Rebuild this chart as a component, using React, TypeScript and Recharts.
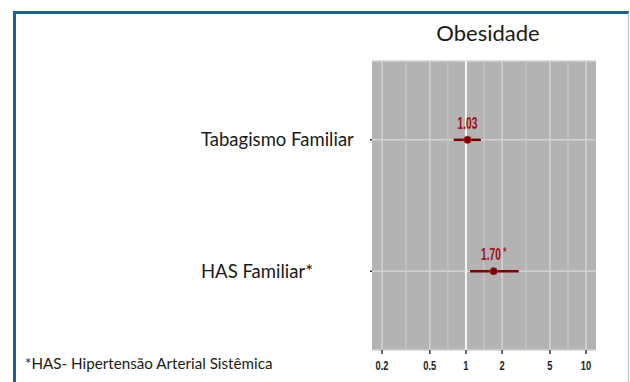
import React from "react";
import {
  ScatterChart,
  Scatter,
  XAxis,
  YAxis,
  ZAxis,
  CartesianGrid,
  ReferenceLine,
  ErrorBar,
  LabelList,
} from "recharts";

const categories = ["Tabagismo Familiar", "HAS Familiar*"];
const oddsRatios = [1.03, 1.7];
const ciLow = [0.79, 1.08];
const ciHigh = [1.33, 2.75];
const valueLabels = ["1.03", "1.70 *"];
const majorTicks = [0.2, 0.5, 1, 2, 5, 10];
const majorTickLabels = ["0.2", "0.5", "1", "2", "5", "10"];
const minorBreaks = [0.316, 0.707, 1.414, 3.162, 7.071];

const data = categories.map((name, i) => ({
  name,
  pos: i + 1,
  or: oddsRatios[i],
  err: [oddsRatios[i] - ciLow[i], ciHigh[i] - oddsRatios[i]],
  label: valueLabels[i],
}));

const narrow = "'Liberation Sans', Arimo, sans-serif";
const sans = "Lato, 'Open Sans', 'Noto Sans', sans-serif";
const Y_LABEL_LEFT = 201;

const Dot = (props: any) => {
  const { cx, cy } = props;
  return <circle cx={cx} cy={cy} r={3.8} fill="#7a0000" stroke="#c05050" strokeWidth={0.6} />;
};

const XTick = (props: any) => {
  const { x, y, payload } = props;
  const idx = majorTicks.indexOf(payload.value);
  const text = idx >= 0 ? majorTickLabels[idx] : String(payload.value);
  return (
    <g transform={`translate(${x},${y})`}>
      <text
        transform="scale(0.78,1)"
        textAnchor="middle"
        dy="0.71em"
        fill="#1e1e1e"
        fontSize={12}
        fontFamily={narrow}
        fontWeight="bold"
      >
        {text}
      </text>
    </g>
  );
};

const YTick = (props: any) => {
  const { y, payload } = props;
  const text = categories[payload.value - 1] ?? "";
  return (
    <text x={Y_LABEL_LEFT} y={y} dy="0.35em" textAnchor="start" fill="#1a1a1a" fontSize={18.5} fontFamily={sans}>
      {text}
    </text>
  );
};

const ValueLabel = (props: any) => {
  const { x, y, width, height, value } = props;
  const cx = x + width / 2;
  const cy = y + height / 2;
  const str = String(value);
  const main = str.replace(" *", "");
  const star = str.includes("*");
  return (
    <g transform={`translate(${cx},${cy - 11})`}>
      <text
        transform="scale(0.6,1)"
        textAnchor="middle"
        fill="#8b0000"
        stroke="#d08080"
        strokeWidth={0.3}
        fontSize={17}
        fontFamily={narrow}
        fontWeight="bold"
      >
        {main}
        {star ? <tspan fontSize={13} dy={-4} dx={4}>*</tspan> : null}
      </text>
    </g>
  );
};

export default function App() {
  return (
    <div style={{ position: "absolute", left: 0, top: 0, width: 630, height: 382, background: "#fff", overflow: "hidden" }}>
      <div
        style={{
          position: "absolute",
          left: 13,
          top: 11,
          width: 612,
          height: 380,
          borderTop: "3px solid #1d5b9b",
          borderLeft: "3px solid #1d5b9b",
          borderRight: "1px solid #a9c4e0",
        }}
      />
      <div style={{ position: "absolute", left: 0, top: 0 }}>
        <ScatterChart width={630} height={382} margin={{ top: 61, right: 34, bottom: 0, left: 0 }}>
          <CartesianGrid fill="#b3b3b3" fillOpacity={1} stroke="#d2d2d2" strokeWidth={1.5} vertical={false} horizontal={true} />
          <XAxis
            type="number"
            dataKey="or"
            scale="log"
            domain={[0.165, 12.1]}
            allowDataOverflow
            ticks={majorTicks}
            axisLine={false}
            tickLine={{ stroke: "#333", strokeWidth: 1.5 }}
            tickSize={4}
            tickMargin={7}
            height={32}
            tick={<XTick />}
          />
          <YAxis
            type="number"
            dataKey="pos"
            domain={[0.4, 2.6]}
            reversed
            ticks={[1, 2]}
            axisLine={false}
            tickLine={{ stroke: "#333", strokeWidth: 1.5 }}
            tickSize={2}
            tickMargin={17}
            width={372}
            tick={<YTick />}
          />
          <ZAxis range={[50, 50]} />
          {minorBreaks.map((v) => (
            <ReferenceLine key={"mi" + v} x={v} stroke="#c9c9c9" strokeWidth={1.2} />
          ))}
          {majorTicks.map((v) => (
            <ReferenceLine key={"ma" + v} x={v} stroke="#d2d2d2" strokeWidth={1.5} />
          ))}
          <ReferenceLine x={1} stroke="#f4f4f4" strokeWidth={2} />
          <Scatter data={data} isAnimationActive={false} shape={<Dot />}>
            <ErrorBar dataKey="err" direction="x" width={0} stroke="#7a0000" strokeWidth={2.5} />
            <LabelList dataKey="label" content={<ValueLabel />} />
          </Scatter>
        </ScatterChart>
      </div>
      <div
        style={{
          position: "absolute",
          left: 384,
          width: 208,
          top: 20,
          textAlign: "center",
          fontFamily: sans,
          fontSize: 22,
          lineHeight: "26px",
          color: "#1a1a1a",
        }}
      >
        Obesidade
      </div>
      <div
        style={{
          position: "absolute",
          left: 25,
          top: 354,
          fontFamily: sans,
          fontSize: 15.2,
          lineHeight: "18px",
          color: "#1a1a1a",
          whiteSpace: "nowrap",
        }}
      >
        *HAS- Hipertensão Arterial Sistêmica
      </div>
    </div>
  );
}
